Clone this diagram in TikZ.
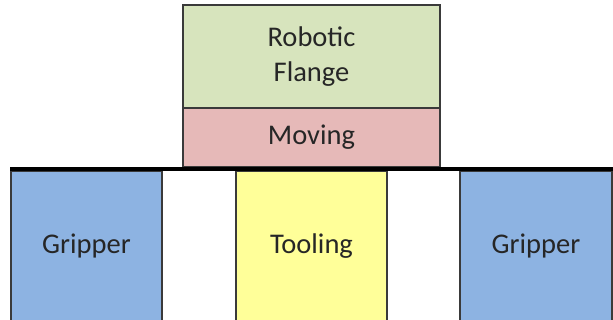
\documentclass[tikz,border=0pt]{standalone}
\usepackage{fontspec}
\setmainfont{Carlito}
\definecolor{flangegreen}{HTML}{D7E4BD}
\definecolor{movingpink}{HTML}{E6B9B8}
\definecolor{gripperblue}{HTML}{8DB3E2}
\definecolor{toolyellow}{HTML}{FFFF99}
\definecolor{edgegray}{HTML}{3A3A3A}
\definecolor{textgray}{HTML}{262626}
\tikzset{
  part/.style={draw=edgegray, line width=1.1pt, inner sep=0pt, align=center,
    text=textgray, font=\fontsize{28.5}{35}\selectfont},
}
\begin{document}
\begin{tikzpicture}[x=1pt,y=-1pt]
  \useasboundingbox (0,0) rectangle (613,320);
  % upper stack: flange and moving plate
  \node[part, fill=flangegreen, minimum width=257pt, minimum height=103pt]
    (flange) at (311.5,56.5) {Robotic\\Flange};
  \node[part, fill=movingpink, minimum width=257pt, minimum height=59pt]
    (moving) at (311.5,137.5) {Moving};
  % lower row: grippers and tooling
  \node[part, fill=gripperblue, minimum width=151pt, minimum height=150pt]
    (gripL) at (86.5,246) {Gripper};
  \node[part, fill=toolyellow, minimum width=151pt, minimum height=150pt]
    (tool) at (311.5,246) {Tooling};
  \node[part, fill=gripperblue, minimum width=152pt, minimum height=150pt]
    (gripR) at (536,246) {Gripper};
  % mounting plate line
  \coordinate (plateL) at (10,169);
  \coordinate (plateR) at (613,169);
  \draw[line width=4pt, black] (plateL) -- (plateR);
\end{tikzpicture}
\end{document}
